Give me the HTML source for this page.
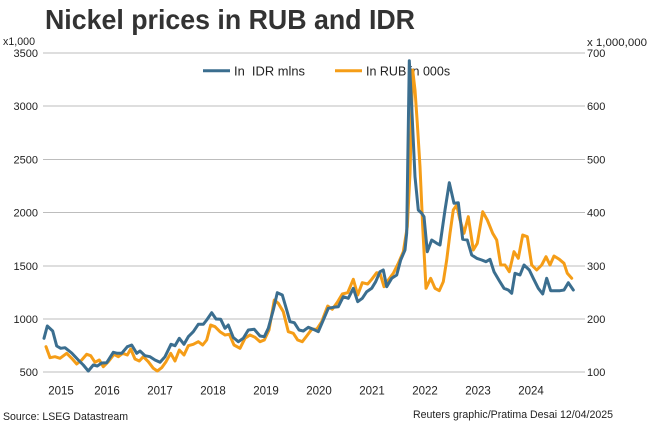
<!DOCTYPE html>
<html>
<head>
<meta charset="utf-8">
<style>
html,body{margin:0;padding:0;background:#fff;}
svg{display:block;}
text{font-family:"Liberation Sans",Arial,sans-serif;}
</style>
</head>
<body>
<svg width="650" height="425" viewBox="0 0 650 425" xmlns="http://www.w3.org/2000/svg">
<rect width="650" height="425" fill="#fff"/>
<text x="45" y="29" font-size="28" font-weight="bold" fill="#333" textLength="370" lengthAdjust="spacingAndGlyphs">Nickel prices in RUB and IDR</text>

<g stroke="#bdbdbd" stroke-width="1" shape-rendering="crispEdges">
<line x1="43" y1="53" x2="585" y2="53"/>
<line x1="43" y1="106.2" x2="585" y2="106.2"/>
<line x1="43" y1="159.4" x2="585" y2="159.4"/>
<line x1="43" y1="212.6" x2="585" y2="212.6"/>
<line x1="43" y1="265.8" x2="585" y2="265.8"/>
<line x1="43" y1="319" x2="585" y2="319"/>
<line x1="43" y1="372.2" x2="585" y2="372.2"/>
</g>

<g font-size="11" fill="#222">
<text x="3" y="45" textLength="32" lengthAdjust="spacingAndGlyphs">x1,000</text>
<text x="587" y="46" textLength="60" lengthAdjust="spacingAndGlyphs">x 1,000,000</text>
<g text-anchor="end">
<text x="38" y="57">3500</text>
<text x="38" y="110.2">3000</text>
<text x="38" y="163.4">2500</text>
<text x="38" y="216.6">2000</text>
<text x="38" y="269.8">1500</text>
<text x="38" y="323">1000</text>
<text x="38" y="376.2">500</text>
</g>
<text x="587" y="57">700</text>
<text x="587" y="110.2">600</text>
<text x="587" y="163.4">500</text>
<text x="587" y="216.6">400</text>
<text x="587" y="269.8">300</text>
<text x="587" y="323">200</text>
<text x="587" y="376.2">100</text>
</g>

<g font-size="11.5" fill="#222" text-anchor="middle">
<text x="61" y="394.5">2015</text>
<text x="107" y="394.5">2016</text>
<text x="160" y="394.5">2017</text>
<text x="213" y="394.5">2018</text>
<text x="266" y="394.5">2019</text>
<text x="319" y="394.5">2020</text>
<text x="372" y="394.5">2021</text>
<text x="425" y="394.5">2022</text>
<text x="478" y="394.5">2023</text>
<text x="531" y="394.5">2024</text>
</g>

<text x="3" y="420" font-size="11" fill="#222" textLength="125" lengthAdjust="spacingAndGlyphs">Source: LSEG Datastream</text>
<text x="413" y="418" font-size="11" fill="#222" textLength="200" lengthAdjust="spacingAndGlyphs">Reuters graphic/Pratima Desai 12/04/2025</text>

<!-- legend -->
<line x1="203" y1="70.7" x2="230" y2="70.7" stroke="#3b6e8f" stroke-width="3"/>
<text x="234" y="75.5" font-size="12.5" fill="#222" xml:space="preserve" textLength="71" lengthAdjust="spacingAndGlyphs">In  IDR mlns</text>
<line x1="335" y1="70.7" x2="362" y2="70.7" stroke="#f59d17" stroke-width="3"/>
<text x="366" y="75.5" font-size="12.5" fill="#222">In RUB in 000s</text>

<!-- orange RUB -->
<polyline fill="none" stroke="#f59d17" stroke-width="3" stroke-linejoin="round" stroke-linecap="round" points="
46,346.7 50,357.7 55,356.7 60,358.3 66.7,353.3 71.7,358.3 76.7,364 81.7,360 86.7,354.3 90.7,355.7 95,362.3 99.3,360 103.3,366.7 108.3,361.7 114,354.3 118.3,356.7 122.7,353.3 127.3,355 130.7,349 135,359 139.3,361 143.3,356.7 148.3,361.7 153.3,368.3 157.3,371 161.7,367.7 166,361.7 170.7,353.3 175,361 179.3,350 184,355 188.3,345.7 193.3,344.3 198.3,341.7 202.7,345 206.7,340 210.7,325 215,326.7 220,331.7 225,335 229.3,334.3 234,345
240,348.3 245,338.3 250,335 255,337.3 260,341.7 264.3,340 269,330 274.3,300 278.3,303.3 283.3,311.7 288.3,331.7 293.3,333.3 297.7,340 302.3,341.7 306.7,336 311.7,329.3 316.7,329.3 321.7,321.7 327.7,306 332.3,309.3 337.7,301.7 342.3,294 347.7,292.7 353.3,279.3 357.7,295 362.3,282.7 367.7,284 371.7,279.3 376.7,272.7
380,273.3 384,286.7 388.3,280 393.3,273.3 398.3,263.3 403.3,251.7 407.3,226.7 410,173.3 412.7,70 415,90 417.3,123.3 420,166.7 422.7,226.7 426,288.3 430.7,278.3 435,288.3 439.3,290.7 443.3,281.7 446.7,260 450,233.3 453.3,210 456.7,205 460,220 464,233.3 468.3,216.7 473.3,250 477.3,243.3 482.7,211.7 487.3,220 492.7,233.3 496.7,240 500.7,265 505,265 509.3,271.7 514,251.7 518.3,258.3 522.7,235 527.3,236.7 531.7,265 536.7,270 541.7,265 546,256.7 550,265 554,256 559.3,259.3 564,263.3 567.3,273.3 571.7,278.3"/>

<!-- blue IDR -->
<polyline fill="none" stroke="#3b6e8f" stroke-width="3" stroke-linejoin="round" stroke-linecap="round" points="
44,338.3 47.3,326 52.7,331 56.7,346 60.7,348.3 65,347.7 71.7,353 78.3,360 83.3,365 88.3,371 93.3,365 97.3,366 101.7,363 106.7,362.7 113.3,352.3 117.3,353.3 121.7,353.3 127.3,346.7 131.7,345 136.7,353.3 140,351 145,355.7 150,356.7 155,360 160,362.3 165,356.7 171,344.3 175,345.7 179.3,338.3 184,344.3 188.3,336.7 193.3,331.7 198.3,324.3 203.3,324.3 206.7,320 211.7,312.7 216,319 220.7,319.3 225,328.3 228.3,325 233.3,337.5
238.3,341.7 243.3,338.3 248.3,330 254.3,329.3 260,336 264.3,336.7 268.3,328.3 273.3,310 277.3,292.7 282.3,295 286.7,310 290,321.7 294.3,322.7 299,330 303.3,331 308.3,327.3 313.3,329.3 318.3,331.7 323.3,320 328.3,308.3 333.3,307.3 338.3,306.7 343.3,296.7 348.3,298.3 353.3,288.3 357.7,301.7 362.3,298.3 366.7,291.7 371.7,288.3 375.7,281.7
380,271.7 383.3,270 386.7,286.7 391.7,278.3 396.7,275 400.7,260 405,250 406.7,233 409.3,60.7 411.7,106.7 415,176.7 418.3,210 421.7,213.3 424,216.7 427.3,251.7 431.7,240 436.7,243.3 440,245 445,210 449.3,182.7 454,203.3 458.3,202.7 462.7,239.3 467.3,240 471.7,255 476.7,258.3 481.7,260 486,261.7 490,259.3 494,271.7 499.3,280.7 504,288.3 508.3,290 511.7,293.3 515,273.3 520,275 524,265 529.3,270 533.3,278.3 538.3,288.3 542.7,294 546.7,278.3 550.7,290.7 555,290.7 560,290.7 564,290 568.3,282.7 573.3,290"/>
</svg>
</body>
</html>
